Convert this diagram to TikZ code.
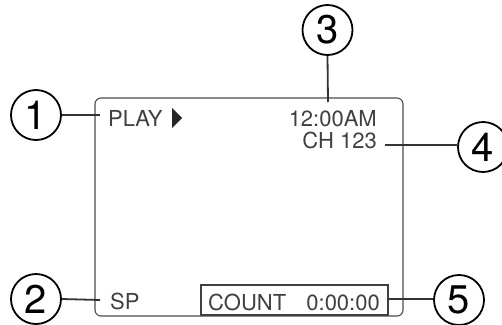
\documentclass[tikz,border=0pt]{standalone}
\usepackage{fontspec}
\setmainfont{TeX Gyre Heros}
\begin{document}
\begin{tikzpicture}[x=1pt,y=-1pt,
  callout/.style={circle,draw=black,line width=1.8pt,minimum size=50pt,inner sep=0pt,font=\fontsize{40}{40}\selectfont},
  leader/.style={draw=black!80,line width=1.8pt},
  screen/.style={draw=black!70,line width=1.1pt,rounded corners=6pt},
  lcd/.style={inner sep=0pt,text=black!75,font=\fontsize{22}{22}\selectfont}]
\useasboundingbox (0,0) rectangle (502,324);
% screen
\draw[screen] (95,98) rectangle (403,316);
% texts
\node[lcd,anchor=base west] (play) at (108,126) {PLAY};
\fill[black!85] (172,108) -- (182,118) -- (172,128) -- cycle;
\node[lcd,anchor=base east] (clock) at (377,126) {12:00AM};
\node[lcd,anchor=base east] (ch) at (377,148) {CH 123};
\node[lcd,anchor=base west] (sp) at (110,309) {SP};
\draw[draw=black!75,line width=1.8pt] (201,285) rectangle (388,315);
\node[lcd,anchor=base west] (count) at (208,310) {COUNT};
\node[lcd,anchor=base east] (time) at (380,310) {0:00:00};
% callouts
\node[callout] (c1) at (36,115) {1};
\node[callout] (c2) at (36,299) {2};
\node[callout] (c3) at (327.5,30) {3};
\node[callout] (c4) at (483,147) {4};
\node[callout] (c5) at (459,300) {5};
% leader ends
\coordinate (e1) at (100,115);
\coordinate (e2) at (100,300);
\coordinate (e3) at (328,102);
\coordinate (e4) at (385,145);
\coordinate (e5) at (388,299);
\draw[leader] (c1.east) -- (e1);
\draw[leader] (c2.east) -- (e2);
\draw[leader] (c3.south) -- (e3);
\draw[leader] (e4) -- (c4.west |- e4);
\draw[leader] (e5) -- (c5.west |- e5);
\end{tikzpicture}
\end{document}
